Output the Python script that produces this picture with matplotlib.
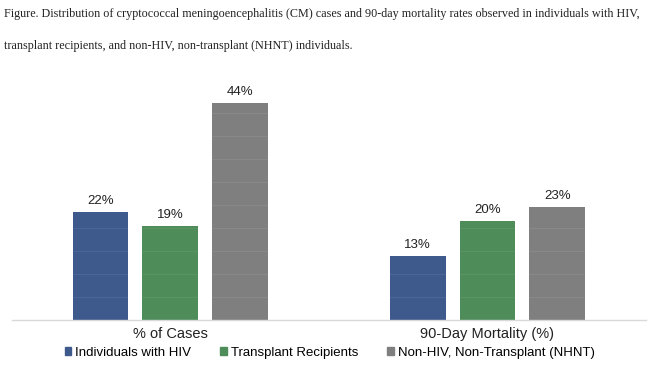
import matplotlib
matplotlib.use("Agg")
import matplotlib.pyplot as plt
import numpy as np
from matplotlib.patches import Patch

categories = ["% of Cases", "90-Day Mortality (%)"]
series_names = ["Individuals with HIV", "Transplant Recipients", "Non-HIV, Non-Transplant (NHNT)"]
hiv = [22, 13]
transplant = [19, 20]
nhnt = [44, 23]
colors = ["#3E5A8D", "#4E8C5A", "#7F7F7F"]
title_text = ("Figure. Distribution of cryptococcal meningoencephalitis (CM) cases and 90-day mortality rates observed in individuals with HIV,\n"
              "transplant recipients, and non-HIV, non-transplant (NHNT) individuals.")

fig = plt.figure(figsize=(6.5, 3.68), dpi=100)
ax = fig.add_axes([0.018, 0.1304, 0.976, 0.67])

x = np.arange(len(categories))
w = 0.176
off = 0.22
for i, (vals, name) in enumerate(zip([hiv, transplant, nhnt], series_names)):
    pos = x + (i - 1) * off
    bars = ax.bar(pos, vals, width=w, color=colors[i], label=name, zorder=2)
    for b, v in zip(bars, vals):
        ax.text(b.get_x() + b.get_width() / 2, v + 1.0, f"{v}%", ha="center", va="bottom",
                fontsize=9.5, family="Liberation Sans", color="#222222")

ax.set_xlim(-0.5, 1.5)
ax.set_ylim(0, 50)
ax.set_yticks(np.arange(4.67, 48, 4.67))
ax.yaxis.grid(True, color="white", alpha=0.07, linewidth=0.8, zorder=3)
ax.set_axisbelow(False)
ax.tick_params(axis="y", left=False, labelleft=False)
ax.set_xticks(x)
ax.set_xticklabels(categories, fontsize=10.5, family="Liberation Sans", color="#222222")
ax.tick_params(axis="x", length=0, pad=5)
for s in ["top", "right", "left"]:
    ax.spines[s].set_visible(False)
ax.spines["bottom"].set_color("#D9D9D9")
ax.spines["bottom"].set_linewidth(1.0)

handles = [Patch(color=c, label=n) for c, n in zip(colors, series_names)]
fig.legend(handles=handles, loc="center", bbox_to_anchor=(0.507, 0.042), ncol=3, frameon=False,
           prop={"family": "Liberation Sans", "size": 9.5}, handlelength=0.5, handleheight=0.5,
           handletextpad=0.3, columnspacing=2.2)

fig.text(0.006, 0.978, title_text, ha="left", va="top", family="Liberation Serif", fontsize=8.7,
         linespacing=3.2, color="#222222")

fig.savefig("out.png", dpi=100)
